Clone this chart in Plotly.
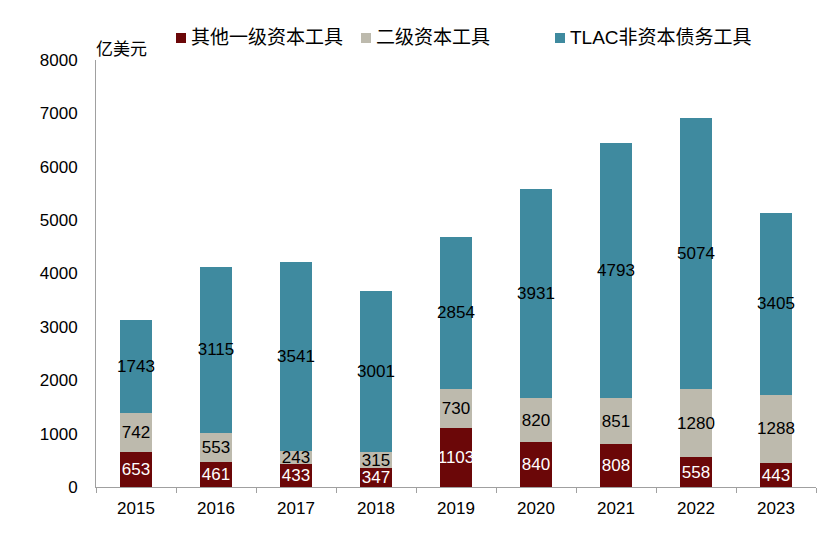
import plotly.graph_objects as go

years = ["2015", "2016", "2017", "2018", "2019", "2020", "2021", "2022", "2023"]
at1_other = [653, 461, 433, 347, 1103, 840, 808, 558, 443]
tier2 = [742, 553, 243, 315, 730, 820, 851, 1280, 1288]
tlac_non_capital = [1743, 3115, 3541, 3001, 2854, 3931, 4793, 5074, 3405]

names = ["其他一级资本工具", "二级资本工具", "TLAC非资本债务工具"]
colors = ["#6B0708", "#BDBAAD", "#3F8A9F"]
text_colors = ["#FFFFFF", "#000000", "#000000"]

FONT = "Liberation Sans, Arial, Noto Sans CJK SC, sans-serif"

L, R, T, B = 96, 11, 60, 52
W, H = 827, 539
PW, PH = W - L - R, H - T - B


def px_x(px):
    return (px - L) / PW


def px_y(py):
    return (H - B - py) / PH


fig = go.Figure()
for vals, name, c, tc in zip([at1_other, tier2, tlac_non_capital], names, colors, text_colors):
    fig.add_trace(go.Bar(
        x=years, y=vals, name=name,
        marker=dict(color=c, line=dict(width=0)),
        text=[str(v) for v in vals],
        textposition="inside",
        insidetextanchor="middle",
        textangle=0,
        textfont=dict(family=FONT, size=17, color=tc),
        cliponaxis=False,
        showlegend=False,
    ))

# manual legend (squares + labels)
legend_sq_x = [176, 361, 555]
legend_txt_x = [189, 374, 568]
legend_y = 38
shapes = []
annotations = []
for sx, tx, name, c in zip(legend_sq_x, legend_txt_x, names, colors):
    shapes.append(dict(
        type="rect", xref="paper", yref="paper",
        x0=px_x(sx), x1=px_x(sx + 10),
        y0=px_y(legend_y + 5), y1=px_y(legend_y - 5),
        fillcolor=c, line=dict(width=0),
    ))
    annotations.append(dict(
        text=name, xref="paper", yref="paper",
        x=px_x(tx), y=px_y(legend_y), xanchor="left", yanchor="middle",
        showarrow=False, font=dict(family=FONT, size=19, color="#000000"),
    ))

annotations.append(dict(
    text="亿美元", xref="paper", yref="paper",
    x=px_x(94), y=px_y(50), xanchor="left", yanchor="middle",
    showarrow=False, font=dict(family=FONT, size=17, color="#000000"),
))

fig.update_layout(
    barmode="stack",
    bargap=0.6,
    width=W, height=H,
    margin=dict(l=L, r=R, t=T, b=B, autoexpand=False),
    paper_bgcolor="white",
    plot_bgcolor="white",
    font=dict(family=FONT, size=17, color="#000000"),
    uniformtext=dict(mode="show", minsize=17),
    showlegend=False,
    xaxis=dict(
        showline=True, linecolor="#A0A0A0", linewidth=1,
        ticks="outside", tickson="boundaries", ticklen=5, tickcolor="#A0A0A0",
        tickfont=dict(size=17),
        showgrid=False, automargin=False,
        ticklabelstandoff=6,
    ),
    yaxis=dict(
        range=[0, 8000], dtick=1000,
        showline=True, linecolor="#A0A0A0", linewidth=1,
        ticks="", showgrid=False, zeroline=False,
        tickfont=dict(size=17),
        ticklabelstandoff=14, automargin=False,
    ),
    shapes=shapes,
    annotations=annotations,
)

fig.write_html(
    "out.html",
    config={"displayModeBar": False},
    post_script="document.body.style.margin='0';document.body.style.overflow='hidden';",
)
